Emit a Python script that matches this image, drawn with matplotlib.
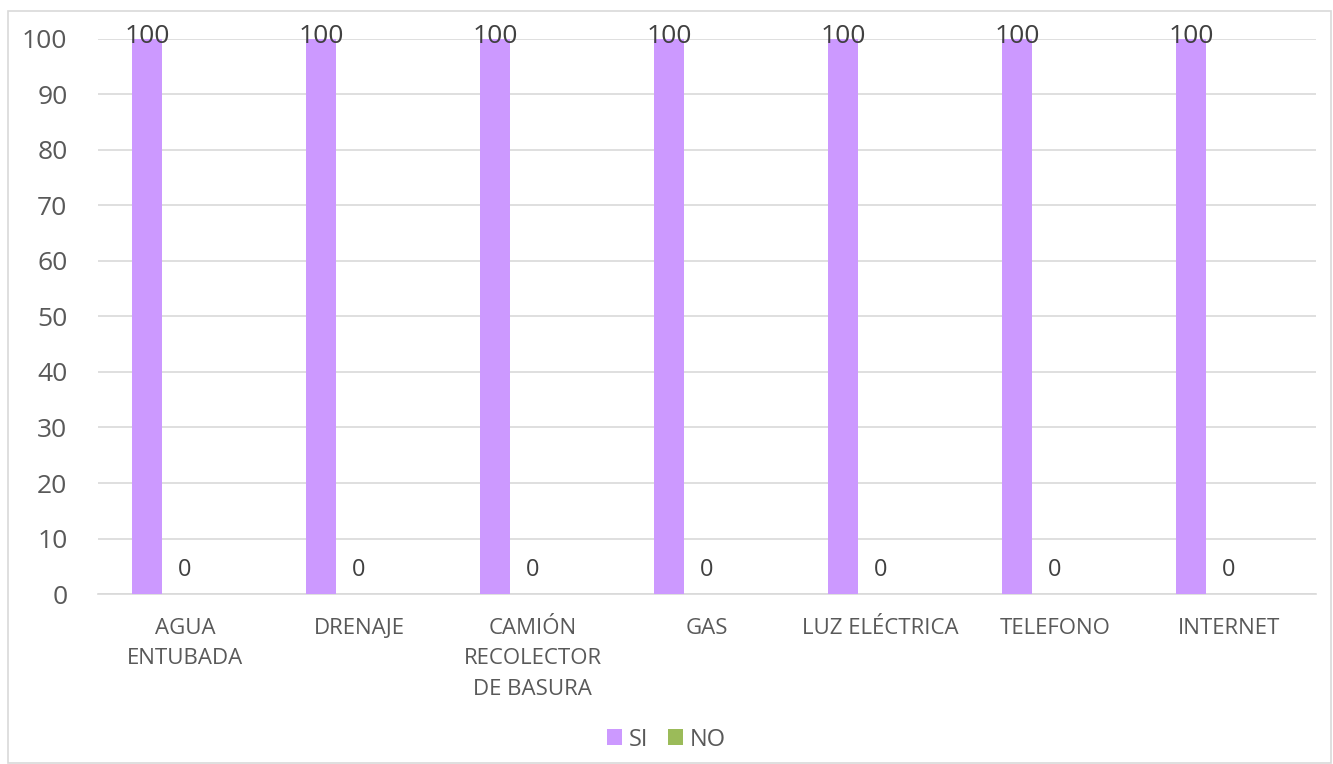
import matplotlib.pyplot as plt
import numpy as np
from matplotlib.patches import Rectangle

# Data
categories = ["AGUA\nENTUBADA", "DRENAJE", "CAMIÓN\nRECOLECTOR\nDE BASURA", "GAS",
              "LUZ ELÉCTRICA", "TELEFONO", "INTERNET"]
si_values = [100, 100, 100, 100, 100, 100, 100]
no_values = [0, 0, 0, 0, 0, 0, 0]
yticks = [0, 10, 20, 30, 40, 50, 60, 70, 80, 90, 100]

# Style
si_color = '#CC99FF'
no_color = '#9BBB59'
text_color = '#595959'
grid_color = '#D9D9D9'
plt.rcParams['font.family'] = ['Open Sans', 'DejaVu Sans']

fig = plt.figure(figsize=(13.33, 7.64), dpi=100)
ax = fig.add_axes([0.0735, 0.2225, 0.9135, 0.7265])

x = np.arange(len(categories))
width = 0.172
offset = 0.218

bars_si = ax.bar(x - offset, si_values, width, color=si_color, label='SI', zorder=3)
bars_no = ax.bar(x, no_values, width, color=no_color, label='NO', zorder=3)

# Data labels
for xi, v in zip(x - offset, si_values):
    ax.annotate(str(v), (xi, v), xytext=(0, 2), textcoords='offset points',
                ha='center', va='center', fontsize=19, color='#404040', zorder=4)
for xi, v in zip(x, no_values):
    ax.annotate(str(v), (xi, v), xytext=(0, 17), textcoords='offset points',
                ha='center', va='center', fontsize=17, color='#404040', zorder=4)

ax.set_xlim(-0.5, len(categories) - 0.5)
ax.set_ylim(0, 100)
ax.set_yticks(yticks)
ax.set_xticks(x)
ax.set_xticklabels(categories, fontsize=16, color=text_color, linespacing=1.6, va='top')
ax.tick_params(axis='y', labelsize=19, colors=text_color, length=0, pad=22)
ax.tick_params(axis='x', length=0, pad=17)
ax.grid(axis='y', color=grid_color, linewidth=1.2, zorder=0)
for s in ['top', 'right', 'left']:
    ax.spines[s].set_visible(False)
ax.spines['bottom'].set_color(grid_color)
ax.spines['bottom'].set_linewidth(1.2)

leg = fig.legend(handles=[bars_si, bars_no], labels=['SI', 'NO'], loc='center',
                 bbox_to_anchor=(0.5, 0.032), ncol=2, frameon=False, fontsize=17,
                 handlelength=0.65, handleheight=0.65, handletextpad=0.3, columnspacing=0.8)
for t in leg.get_texts():
    t.set_color(text_color)

# Chart border
fig.patches.append(Rectangle((8 / 1333, 1 / 764), 1323 / 1333, 752 / 764,
                             transform=fig.transFigure, fill=False,
                             edgecolor=grid_color, linewidth=1.2))

fig.savefig('out.png', dpi=100)
